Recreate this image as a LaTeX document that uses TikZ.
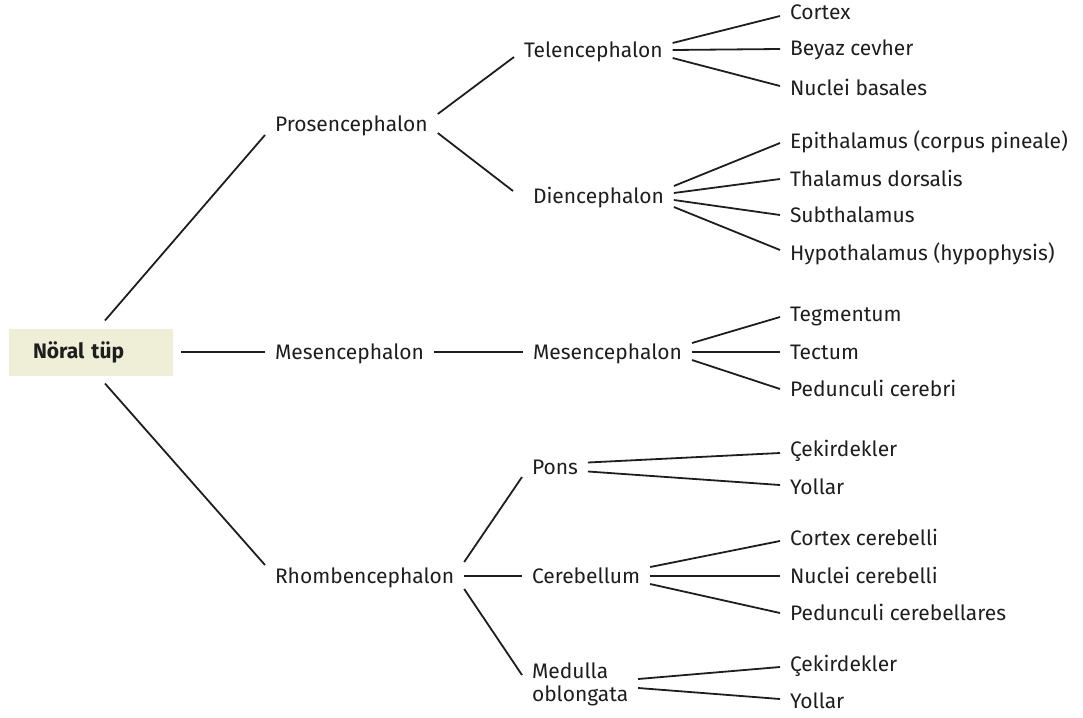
\documentclass[tikz,border=0pt]{standalone}
\usepackage{fontspec}
\setmainfont{Fira Sans}
\usetikzlibrary{positioning}
\definecolor{rootfill}{HTML}{EEEFD6}
\definecolor{ink}{HTML}{1E1E1E}
\tikzset{
  % text nodes of the tree
  base/.style={anchor=west, inner xsep=10pt, inner ysep=0pt, outer sep=0pt, text=ink},
  part/.style={base, text height=14pt, text depth=0pt},
  % the neural tube box
  root/.style={fill=rootfill, inner xsep=24pt, text width=116pt, align=left,
    minimum height=47pt, outer sep=8pt, font=\fontsize{21}{23}\selectfont\bfseries, text=ink},
  link/.style={ink, line width=1.8pt},
}

\begin{document}
\begin{tikzpicture}[x=1pt, y=-1pt, font=\fontsize{21}{23}\selectfont]
  \useasboundingbox (0,0) rectangle (1083,717);

  \node[root] (tube) at (91,352) {Nöral tüp};

  \node[part] (pros) at (265,124) {Prosencephalon};
  \node[part] (mes) at (265,352) {Mesencephalon};
  \node[part] (rhomb) at (265,576) {Rhombencephalon};

  \node[part] (tel) at (514,50) {Telencephalon};
  \node[part] (dien) at (523,196) {Diencephalon};
  \node[part] (mesb) at (523,352) {Mesencephalon};
  \node[part] (pons) at (522,467) {Pons};
  \node[part] (cereb) at (522,576) {Cerebellum};
  \node[base, align=left] (medulla) at (522,684) {Medulla\\oblongata};

  \node[part] (cortex) at (780,13) {Cortex};
  \node[part] (beyaz) at (780,49) {Beyaz cevher};
  \node[part] (basales) at (780,88) {Nuclei basales};
  \node[part] (epi) at (780,141) {Epithalamus (corpus pineale)};
  \node[part] (thal) at (780,179) {Thalamus dorsalis};
  \node[part] (subth) at (780,215) {Subthalamus};
  \node[part] (hypo) at (780,253) {Hypothalamus (hypophysis)};
  \node[part] (tegm) at (780,314) {Tegmentum};
  \node[part] (tect) at (780,352) {Tectum};
  \node[part] (pedc) at (780,389) {Pedunculi cerebri};
  \node[part] (cekp) at (780,449) {Çekirdekler};
  \node[part] (yolp) at (780,487) {Yollar};
  \node[part] (ccer) at (780,538) {Cortex cerebelli};
  \node[part] (ncer) at (780,576) {Nuclei cerebelli};
  \node[part] (pcer) at (780,613) {Pedunculi cerebellares};
  \node[part] (cekm) at (780,664) {Çekirdekler};
  \node[part] (yolm) at (780,701) {Yollar};

  % first level
  \draw[link] ([xshift=14pt]tube.north) -- ([yshift=-11pt]pros.west);
  \draw[link] (tube.east) -- (mes.west);
  \draw[link] ([xshift=14pt]tube.south) -- ([yshift=11pt]rhomb.west);

  % second level
  \draw[link] ([yshift=10pt]pros.east) -- ([yshift=-7pt]tel.west);
  \draw[link] ([yshift=-9pt]pros.east) -- ([xshift=-10pt, yshift=5pt]dien.west);
  \draw[link] (mes.east) -- (mesb.west);
  \draw[link] ([yshift=14pt]rhomb.east) -- ([yshift=-10pt]pons.west);
  \draw[link] (rhomb.east) -- (cereb.west);
  \draw[link] ([yshift=-13pt]rhomb.east) -- ([yshift=9pt]medulla.west);

  % third level
  \draw[link] ([yshift=7pt]tel.east) -- ([yshift=-3pt]cortex.west);
  \draw[link] (tel.east) -- (beyaz.west);
  \draw[link] ([yshift=-8pt]tel.east) -- ([yshift=2pt]basales.west);

  \draw[link] ([yshift=10pt]dien.east) -- ([yshift=-2pt]epi.west);
  \draw[link] ([yshift=3pt]dien.east) -- (thal.west);
  \draw[link] ([yshift=-4pt]dien.east) -- (subth.west);
  \draw[link] ([yshift=-11pt]dien.east) -- ([yshift=3pt]hypo.west);

  \draw[link] ([yshift=9pt]mesb.east) -- ([yshift=-3pt]tegm.west);
  \draw[link] (mesb.east) -- (tect.west);
  \draw[link] ([yshift=-8pt]mesb.east) -- (pedc.west);

  \draw[link] ([yshift=4.5pt]pons.east) -- ([yshift=-4pt]cekp.west);
  \draw[link] ([yshift=-4.5pt]pons.east) -- ([yshift=2pt]yolp.west);

  \draw[link] ([yshift=9pt]cereb.east) -- ([yshift=-3pt]ccer.west);
  \draw[link] (cereb.east) -- (ncer.west);
  \draw[link] ([yshift=-8pt]cereb.east) -- (pcer.west);

  \draw[link] ([yshift=5pt]medulla.east) -- ([yshift=-3pt]cekm.west);
  \draw[link] ([yshift=-4pt]medulla.east) -- ([yshift=2pt]yolm.west);
\end{tikzpicture}
\end{document}
